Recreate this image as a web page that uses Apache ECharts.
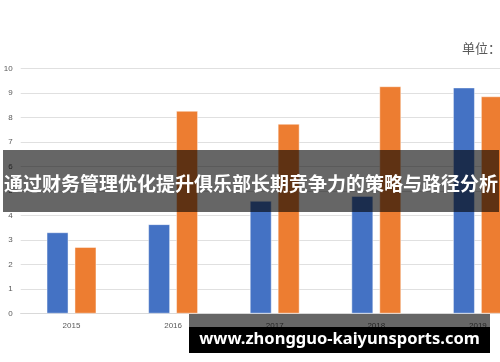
<!DOCTYPE html>
<html><head><meta charset="utf-8">
<script src="https://cdn.jsdelivr.net/npm/echarts@6/dist/echarts.min.js"></script>
<style>html,body{margin:0;padding:0;background:#fff;overflow:hidden;width:500px;height:362px}#c{width:530px;height:362px}</style>
</head><body><div id="c"></div>
<script>
var categories = ['2015', '2016', '2017', '2018', '2019'];
var seriesA = [3.32, 3.65, 4.6, 4.8, 9.22];
var seriesB = [2.72, 8.27, 7.74, 9.27, 8.86];
var yTicks = [0, 1, 2, 3, 4, 5, 6, 7, 8, 9, 10];
var titleText = '通过财务管理优化提升俱乐部长期竞争力的策略与路径分析';
var unitText = '单位：';
var watermark = 'www.zhongguo-kaiyunsports.com';

var chart = echarts.init(document.getElementById('c'), null, {renderer: 'canvas'});
chart.setOption({
  animation: false,
  backgroundColor: '#fff',
  grid: {left: 20.7, top: 68.3, right: 1.3, bottom: 48.3, containLabel: false},
  xAxis: {
    type: 'category', data: categories,
    axisLine: {lineStyle: {color: '#d9d9d9'}},
    axisTick: {show: false},
    axisLabel: {fontSize: 8, color: '#595959', margin: 8, fontFamily: 'Liberation Sans'}
  },
  yAxis: {
    type: 'value', min: yTicks[0], max: yTicks[yTicks.length - 1], interval: 1,
    axisLine: {show: false}, axisTick: {show: false},
    splitLine: {lineStyle: {color: '#e0e0e0', width: 1}},
    axisLabel: {fontSize: 8, color: '#595959', margin: 8, fontFamily: 'Liberation Sans'}
  },
  series: [
    {type: 'bar', data: seriesA, barWidth: 22, barGap: '27%',
     itemStyle: {color: '#4472C4', borderColor: 'rgba(255,255,255,0.45)', borderWidth: 1}},
    {type: 'bar', data: seriesB, barWidth: 22,
     itemStyle: {color: '#ED7D31', borderColor: 'rgba(255,255,255,0.45)', borderWidth: 1}}
  ],
  graphic: [
    {type: 'text', left: 462, top: 42, z: 50,
     style: {text: unitText, fontSize: 13, fill: '#595959', fontFamily: 'Noto Sans CJK SC'}},
    {type: 'rect', shape: {x: 3, y: 150, width: 496, height: 62}, z: 100,
     style: {fill: 'rgba(0,0,0,0.6)'}},
    {type: 'text', z: 101, x: 251, y: 184,
     style: {text: titleText, fontSize: 19, fontWeight: 'bold', fill: '#fff',
             fontFamily: 'Noto Sans CJK SC', align: 'center', verticalAlign: 'middle'}},
    {type: 'rect', shape: {x: 189, y: 314, width: 301, height: 13}, z: 100,
     style: {fill: 'rgba(0,0,0,0.6)'}},
    {type: 'rect', shape: {x: 189, y: 327, width: 301, height: 26}, z: 100,
     style: {fill: '#000'}},
    {type: 'text', z: 101, x: 339.5, y: 339,
     style: {text: watermark, fontSize: 16.5, fontWeight: 'bold', fill: '#fff',
             fontFamily: 'Noto Sans', align: 'center', verticalAlign: 'middle'}}
  ]
});
</script></body></html>
